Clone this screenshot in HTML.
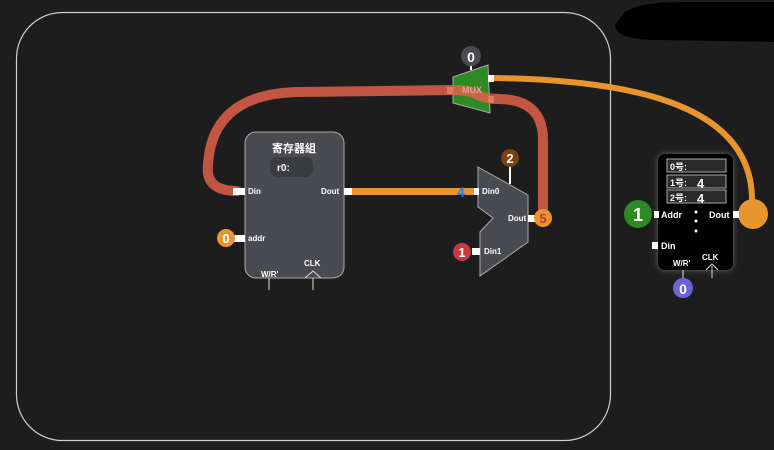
<!DOCTYPE html>
<html><head><meta charset="utf-8"><style>
html,body{margin:0;padding:0;background:#1d1d1d;}
svg{display:block}
text{font-family:"Liberation Sans","Noto Sans CJK SC",sans-serif;fill:#fff;font-weight:bold}
</style></head><body>
<svg width="774" height="450" viewBox="0 0 774 450" xmlns="http://www.w3.org/2000/svg">
<defs><filter id="g" x="-30%" y="-30%" width="160%" height="160%"><feGaussianBlur stdDeviation="3"/></filter></defs>
<rect x="0" y="0" width="774" height="450" fill="#1d1d1d"/>
<rect x="16.5" y="12.5" width="594" height="428" rx="46" fill="none" stroke="#d0d0d0" stroke-width="1.2"/>
<path d="M625,12 Q640,2 680,2 L774,2 L774,42 L660,40 Q615,40 615,25 Z" fill="#000"/>

<!-- register file -->
<rect x="245" y="132" width="99" height="146" rx="11" fill="#4a4b50" stroke="#aaa" stroke-width="1"/>
<text x="294" y="152" font-size="11" text-anchor="middle">寄存器組</text>
<rect x="270" y="157" width="43" height="20" rx="7" fill="#3a3b3f"/>
<text x="277" y="171" font-size="10">r0:</text>
<text x="248" y="194" font-size="8">Din</text>
<text x="321" y="194" font-size="8">Dout</text>
<text x="248" y="241" font-size="8">addr</text>
<text x="261" y="277" font-size="8">W/R'</text>
<text x="304" y="266" font-size="8">CLK</text>
<path d="M305,278 L313,271 L321,278" fill="none" stroke="#ddd" stroke-width="1"/>
<line x1="269" y1="278" x2="269" y2="290" stroke="#ddd"/>
<line x1="313" y1="278" x2="313" y2="290" stroke="#ddd"/>
<rect x="233" y="235" width="12" height="7" fill="#fff"/>
<rect x="344" y="188" width="8" height="7" fill="#fff"/>

<!-- orange wire -->
<rect x="352" y="188" width="122" height="7" fill="#e8952e"/>
<text x="457" y="197" font-size="14" style="fill:#2c7be0">4</text>

<!-- MUX2 -->
<polygon points="478,167 528,195 528,242 480,276 480,232 493,218 478,207" fill="#4a4b50" stroke="#aaa" stroke-width="1"/>
<rect x="474" y="188" width="5" height="7" fill="#fff"/>
<rect x="472" y="248" width="8" height="7" fill="#fff"/>
<rect x="528" y="215" width="7" height="7" fill="#fff"/>
<text x="482" y="194" font-size="8">Din0</text>
<text x="508" y="221" font-size="8">Dout</text>
<text x="484" y="254" font-size="8">Din1</text>
<line x1="510" y1="166" x2="510" y2="184" stroke="#fff" stroke-width="2"/>
<circle cx="510" cy="158" r="9" fill="#7a4212"/><text x="510" y="163" font-size="13" text-anchor="middle">2</text>
<circle cx="462" cy="252" r="9" fill="#c9363c"/><text x="462" y="257" font-size="13" text-anchor="middle">1</text>
<circle cx="226" cy="238" r="9" fill="#e8952e"/><text x="226" y="243" font-size="13" text-anchor="middle">0</text>

<!-- green MUX -->
<polygon points="453,77 488,65 490,113 453,103" fill="#2e8a22" stroke="#aaa" stroke-width="1"/>
<line x1="471" y1="64" x2="471" y2="70" stroke="#fff" stroke-width="2"/>
<circle cx="471" cy="56" r="10" fill="#4a4b50"/><text x="471" y="62" font-size="14" text-anchor="middle">0</text>
<rect x="488" y="75" width="6" height="7" fill="#fff"/>
<rect x="447" y="87" width="6" height="7" fill="#fff"/>
<rect x="488" y="96" width="6" height="7" fill="#fff"/>

<!-- red wire -->
<path d="M237,191 Q205,191 208,165 Q212,93 300,92 L455,90 Q470,90 480,96 Q487,99 500,99 Q543,100 543,140 L543,210" fill="none" stroke="#e0604a" stroke-width="10" stroke-opacity="0.85" stroke-linecap="round"/>
<rect x="233" y="188" width="12" height="7" fill="#fff"/>
<text x="462" y="93" font-size="9" style="fill:#e8a090">MUX</text>
<circle cx="543" cy="218" r="9" fill="#e8952e"/><text x="543" y="223" font-size="13" text-anchor="middle" style="fill:#c9363c">5</text>

<!-- orange output wire -->
<path d="M494,78 C620,80 752,100 752,200 L752,212" fill="none" stroke="#e8952e" stroke-width="6"/>
<circle cx="753" cy="214" r="15" fill="#e8952e"/>

<!-- memory -->
<rect x="658" y="154" width="75" height="116" rx="7" fill="#fff" opacity="0.35" filter="url(#g)"/>
<rect x="658" y="154" width="75" height="116" rx="7" fill="#000"/>
<rect x="667" y="159" width="59" height="13" fill="#2a2a2a" stroke="#aaa"/>
<rect x="667" y="175" width="59" height="13" fill="#2a2a2a" stroke="#aaa"/>
<rect x="667" y="190" width="59" height="13" fill="#2a2a2a" stroke="#aaa"/>
<text x="670" y="170" font-size="9" font-weight="normal">0号:</text>
<text x="670" y="186" font-size="9" font-weight="normal">1号:</text>
<text x="670" y="201" font-size="9" font-weight="normal">2号:</text>
<text x="697" y="188" font-size="13" font-weight="normal">4</text>
<text x="697" y="203" font-size="13" font-weight="normal">4</text>
<text x="661" y="218" font-size="9">Addr</text>
<text x="709" y="218" font-size="9">Dout</text>
<text x="661" y="249" font-size="9">Din</text>
<text x="673" y="266" font-size="8">W/R'</text>
<text x="702" y="260" font-size="8">CLK</text>
<circle cx="696" cy="212" r="1.5" fill="#fff"/><circle cx="696" cy="221" r="1.5" fill="#fff"/><circle cx="696" cy="231" r="1.5" fill="#fff"/>
<path d="M706,270 L712,264 L718,270" fill="none" stroke="#ddd"/>
<line x1="712" y1="266" x2="712" y2="278" stroke="#ddd"/>
<line x1="683" y1="270" x2="683" y2="280" stroke="#ddd"/>
<rect x="654" y="211" width="5" height="7" fill="#fff"/>
<rect x="652" y="242" width="6" height="7" fill="#fff"/>
<rect x="733" y="211" width="6" height="7" fill="#fff"/>
<circle cx="638" cy="214" r="14" fill="#2e8a22"/><text x="638" y="221" font-size="18" text-anchor="middle">1</text>
<circle cx="683" cy="288" r="10" fill="#6b64d8"/><text x="683" y="294" font-size="14" text-anchor="middle">0</text>
</svg>
</body></html>
